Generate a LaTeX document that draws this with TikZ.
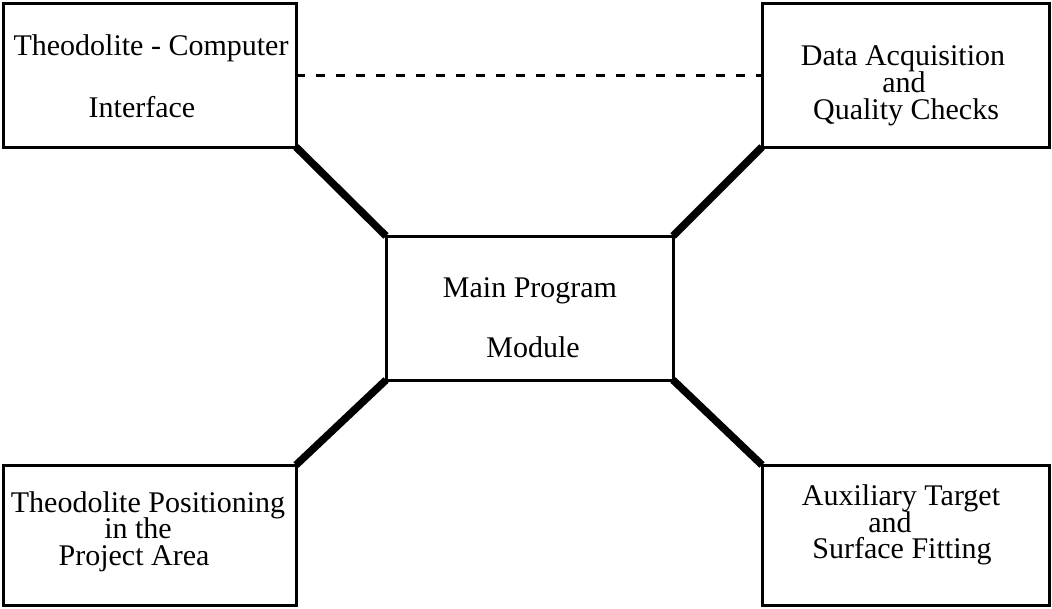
\documentclass[tikz,border=0pt]{standalone}
\usepackage{fontspec}
\setmainfont{Liberation Serif}
\begin{document}
\begin{tikzpicture}[x=1pt,y=-1pt,
  box/.style={draw, line width=3pt, inner sep=0pt, outer sep=0pt},
  txt/.style={anchor=base, inner sep=0pt, text height=20pt, text depth=6pt,
    font=\fontsize{30}{30}\selectfont},
  link/.style={line width=7.5pt},
  dashlink/.style={line width=3pt, dash pattern=on 9pt off 11pt}]
\useasboundingbox (0,0) rectangle (1052,608);

% module boxes
\node[box, minimum width=293pt, minimum height=144pt] (tl) at (149.5,75) {};
\node[box, minimum width=287pt, minimum height=144pt] (tr) at (905.5,75) {};
\node[box, minimum width=287pt, minimum height=144pt] (mn) at (529.5,308) {};
\node[box, minimum width=293pt, minimum height=140pt] (bl) at (149.5,535) {};
\node[box, minimum width=287pt, minimum height=140pt] (br) at (905.5,535) {};

% box captions
\node[txt] (tla) at (151,55) {Theodolite - Computer};
\node[txt] (tlb) at (142,117) {Interface};
\node[txt] (tra) at (903,65) {Data Acquisition};
\node[txt] (trb) at (904,92) {and};
\node[txt] (trc) at (906,119) {Quality Checks};
\node[txt] (mna) at (530,297) {Main Program};
\node[txt] (mnb) at (533,357) {Module};
\node[txt] (bla) at (148,512) {Theodolite Positioning};
\node[txt] (blb) at (138,538) {in the};
\node[txt] (blc) at (134,565) {Project Area};
\node[txt] (bra) at (901,505) {Auxiliary Target};
\node[txt] (brb) at (890,532) {and};
\node[txt] (brc) at (902,558) {Surface Fitting};

% connections to the main module
\draw[link] (tl.south east) -- (mn.north west);
\draw[link] (tr.south west) -- (mn.north east);
\draw[link] (bl.north east) -- (mn.south west);
\draw[link] (br.north west) -- (mn.south east);
\draw[dashlink] (tl.east) -- (tr.west);
\end{tikzpicture}
\end{document}
